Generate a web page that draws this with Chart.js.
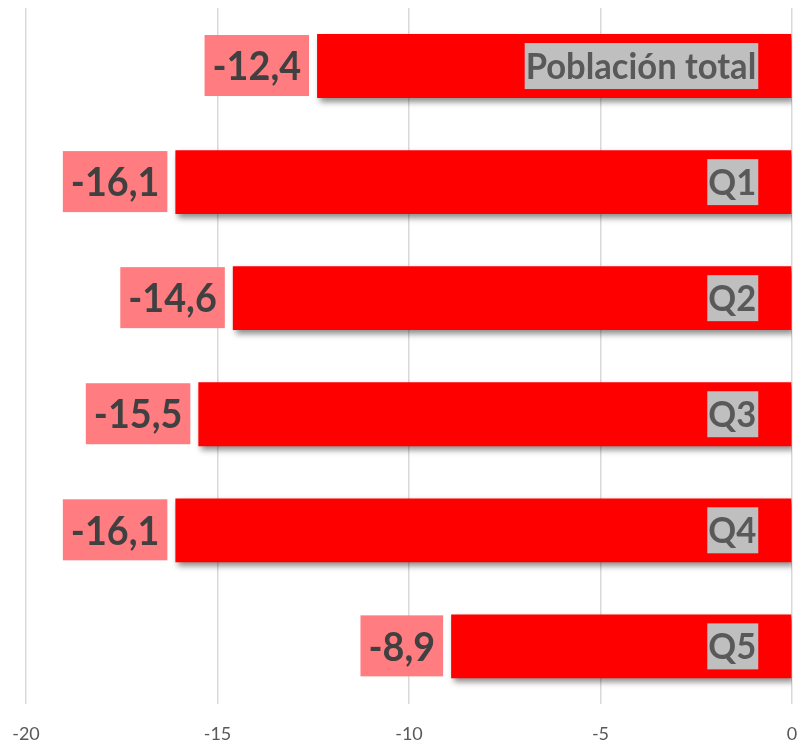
<!DOCTYPE html>
<html>
<head>
<meta charset="utf-8">
<script src="https://cdn.jsdelivr.net/npm/chart.js@4"></script>
<style>
  html, body { margin: 0; padding: 0; background: #fff; overflow: hidden; }
</style>
</head>
<body>
<canvas id="myChart" width="799" height="744"></canvas>
<script>
const categorias = ['Población total', 'Q1', 'Q2', 'Q3', 'Q4', 'Q5']
const valores = [-12.4, -16.1, -14.6, -15.5, -16.1, -8.9]
const ticksX = [-20, -15, -10, -5, 0]

const fmt = v => v.toFixed(1).replace('.', ',')

// sombra de las barras
const sombra = {
    id: 'sombra',
    beforeDatasetsDraw(chart) {
        const c = chart.ctx
        c.save()
        c.shadowColor = 'rgba(0,0,0,0.45)'
        c.shadowBlur = 6
        c.shadowOffsetX = 3
        c.shadowOffsetY = 4
    },
    afterDatasetsDraw(chart) {
        chart.ctx.restore()
    }
}

// etiquetas: categoria dentro de la barra, valor a la izquierda
const etiquetas = {
    id: 'etiquetas',
    afterDatasetsDraw(chart) {
        const c = chart.ctx
        const meta = chart.getDatasetMeta(0)
        meta.data.forEach((bar, i) => {
            const yc = bar.y
            // categoria
            c.save()
            let k = 0.96
            c.font = 'bold 36px Lato'
            let w = c.measureText(categorias[i]).width * k
            let right = bar.base - 34
            c.fillStyle = '#BFBFBF'
            c.fillRect(right - w - 2, yc - 23, w + 3, 46)
            c.fillStyle = '#595959'
            c.textBaseline = 'middle'
            c.translate(right - w - 1, yc + 1)
            c.scale(k, 1)
            c.fillText(categorias[i], 0, 0)
            c.restore()

            // valor
            c.save()
            k = 0.92
            const txt = fmt(valores[i])
            c.font = 'bold 41px Lato'
            w = c.measureText(txt).width * k
            right = bar.x - 8
            c.fillStyle = '#FF7C80'
            c.fillRect(right - w - 16, yc - 31, w + 16, 61)
            c.fillStyle = '#404040'
            c.textBaseline = 'middle'
            c.translate(right - w - 8, yc + 1)
            c.scale(k, 1)
            c.fillText(txt, 0, 0)
            c.restore()
        })
    }
}

let ctx = document.getElementById('myChart')
let myChart = new Chart(ctx, {
    type: 'bar',
    data: {
        labels: categorias,
        datasets: [{
            data: valores,
            backgroundColor: '#FF0000',
            borderWidth: 0,
            categoryPercentage: 1,
            barPercentage: 0.55
        }]
    },
    options: {
        indexAxis: 'y',
        responsive: false,
        animation: false,
        layout: { padding: { left: 26, right: 7, top: 8, bottom: -20 } },
        plugins: {
            legend: { display: false },
            tooltip: { enabled: false }
        },
        scales: {
            x: {
                min: -20,
                max: 0,
                afterBuildTicks: axis => { axis.ticks = ticksX.map(v => ({ value: v })) },
                afterFit: axis => { axis.paddingLeft = 0; axis.paddingRight = 0 },
                grid: { color: '#D9D9D9', lineWidth: 1.5, drawTicks: false },
                border: { display: false },
                ticks: {
                    color: '#595959',
                    font: { family: 'Lato', size: 18 },
                    padding: 19,
                    maxRotation: 0
                }
            },
            y: {
                display: false
            }
        }
    },
    plugins: [sombra, etiquetas]
})
</script>
</body>
</html>
